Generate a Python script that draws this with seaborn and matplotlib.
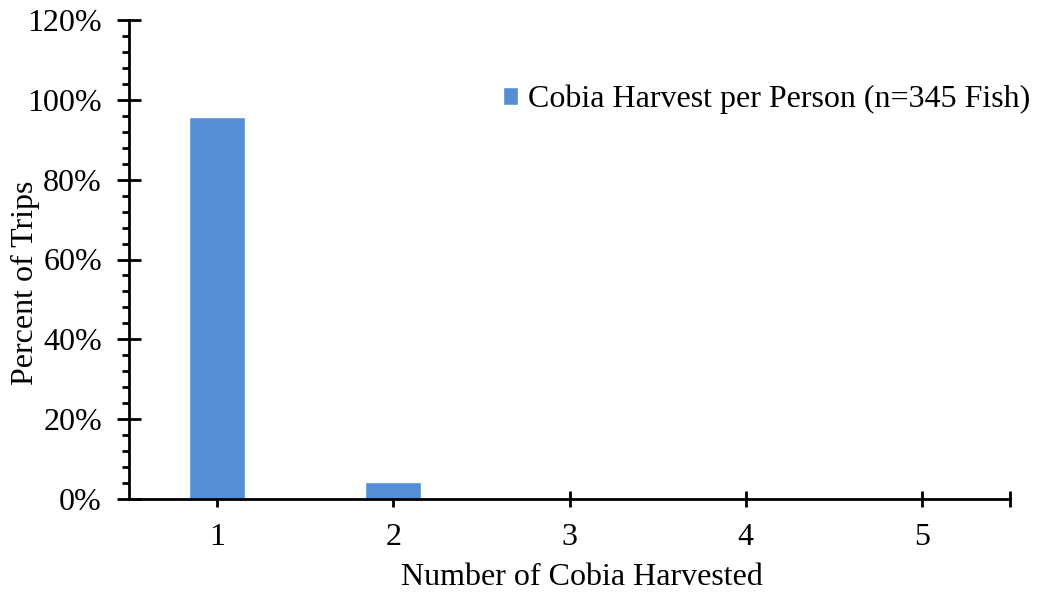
import pandas as pd
import numpy as np
import matplotlib
matplotlib.use("Agg")
import matplotlib.pyplot as plt
import seaborn as sns
from matplotlib.ticker import MultipleLocator, FuncFormatter, FixedLocator

# data
harvested = ["1", "2", "3", "4", "5"]
percent_trips = [95.7, 4.3, 0.0, 0.0, 0.0]
series_name = "Cobia Harvest per Person (n=345 Fish)"

df = pd.DataFrame({"Harvested": harvested, "Percent": percent_trips})

sns.set_style("white")
plt.rcParams["font.family"] = ["Liberation Serif", "DejaVu Serif"]
plt.rcParams["text.color"] = "black"
plt.rcParams["axes.labelcolor"] = "black"
plt.rcParams["xtick.color"] = "black"
plt.rcParams["ytick.color"] = "black"

fs = 23

fig = plt.figure(figsize=(10.37, 5.92), dpi=100)
ax = fig.add_axes([129 / 1037, 1 - 499 / 592, (1010 - 129) / 1037, (499 - 20) / 592])

sns.barplot(data=df, x="Harvested", y="Percent", color="#558ED5", width=0.32,
            saturation=1, label=series_name, ax=ax)

ax.set_ylim(0, 120)
ax.set_xlim(-0.5, 4.5)
ax.yaxis.set_major_locator(MultipleLocator(20))
ax.yaxis.set_minor_locator(MultipleLocator(4))
ax.yaxis.set_major_formatter(FuncFormatter(lambda v, p: f"{v:.0f}%"))
ax.xaxis.set_minor_locator(FixedLocator([4.5]))

for s in ["top", "right"]:
    ax.spines[s].set_visible(False)
for s in ["left", "bottom"]:
    ax.spines[s].set_linewidth(2)
    ax.spines[s].set_color("black")

ax.tick_params(axis="y", which="major", direction="inout", length=17, width=2, labelsize=fs, pad=11, left=True)
ax.tick_params(axis="y", which="minor", direction="out", length=5, width=2, left=True)
ax.tick_params(axis="x", which="both", direction="inout", length=11, width=2, labelsize=fs, pad=12, bottom=True)

ax.set_xlabel("Number of Cobia Harvested", fontsize=fs, va="center")
ax.set_ylabel("Percent of Trips", fontsize=fs, va="center")
ax.xaxis.set_label_coords(0.514, -0.163)
ax.yaxis.set_label_coords(-0.118, 0.451)

ax.legend(loc="upper right", bbox_to_anchor=(1.037, 0.891), frameon=False, fontsize=fs,
          handlelength=0.47, handleheight=0.47, handletextpad=0.3, borderaxespad=0)

fig.savefig("out.png", dpi=100)
